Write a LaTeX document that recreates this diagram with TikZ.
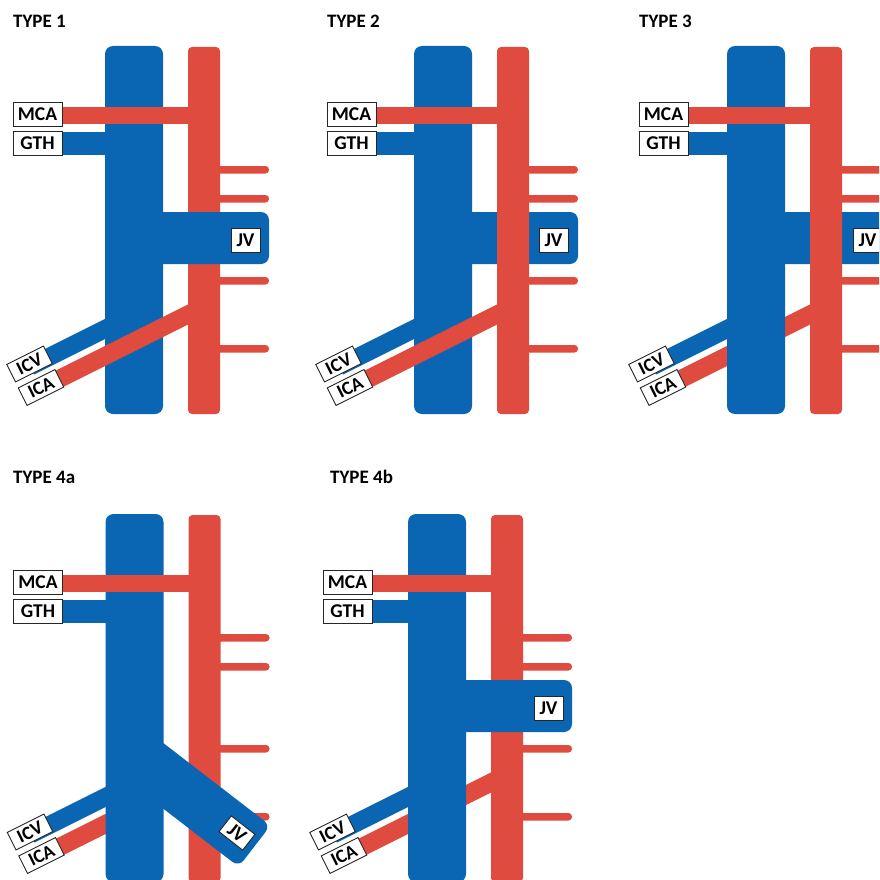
\documentclass[tikz,border=0pt]{standalone}
\usepackage{fontspec}
\setmainfont{Carlito}
\definecolor{veinc}{RGB}{10,102,178}
\definecolor{artc}{RGB}{223,75,62}
\tikzset{
  lbl/.style={draw=black!85, line width=0.9, fill=white, font=\bfseries\fontsize{19.5}{19.5}\selectfont, inner sep=0, minimum width=49, minimum height=24},
  jvlbl/.style={lbl, minimum width=29, minimum height=24},
  dlbl/.style={lbl, font=\bfseries\fontsize{19}{19}\selectfont, minimum width=41, minimum height=19.5, rotate=26.57},
  ttl/.style={font=\bfseries\fontsize{19}{19}\selectfont, anchor=base west, inner sep=0},
  veinband/.style={draw=veinc, line width=18},
  artband/.style={draw=artc, line width=18},
}
\newcommand\VeinBase{%
  \fill[veinc, rounded corners=8] (105,46) rectangle (163,414);
  \fill[veinc] (58,132) rectangle (110,155);
  \path[veinband] (30,366.5) -- (120,321.5);
}
\newcommand\ArtBase{%
  \fill[artc, rounded corners=4] (188,47) rectangle (220,414);
  \fill[artc] (58,107) rectangle (192,124);
  \foreach \yy in {166,195,277,345} \fill[artc, rounded corners=3.5] (214,\yy) rectangle (269,\yy+7.5);
}
\newcommand\IcaLine{\path[artband] (42,387.5) -- (200,308.5);}
\newcommand\JvH{\fill[veinc, rounded corners=8] (150,212) rectangle (269,264);}
\newcommand\StdLabels[2]{%
  \node[lbl] (#2mca) at (37.5+#1,114.5) {MCA};
  \node[lbl] (#2gth) at (37.5+#1,143.5) {GTH};
  \node[dlbl] (#2icv) at (29.5,364) {ICV};
  \node[dlbl] (#2ica) at (41,387.5) {ICA};
}
\begin{document}
\begin{tikzpicture}[x=1pt,y=-1pt]
\clip (0,0) rectangle (879,880);
\fill[white] (0,0) rectangle (879,880);
% titles
\node[ttl] (ta) at (13,28) {TYPE 1};
\node[ttl] (tb) at (327,28) {TYPE 2};
\node[ttl] (tc) at (639,28) {TYPE 3};
\node[ttl] (td) at (13,483) {TYPE 4a};
\node[ttl] (te) at (330,483) {TYPE 4b};
% TYPE 1
\begin{scope}
  \VeinBase
  \ArtBase
  \IcaLine
  \JvH
  \StdLabels{0}{a}
  \node[jvlbl] (ajv) at (245.5,240) {JV};
\end{scope}
% TYPE 2
\begin{scope}[shift={(309,0)}]
  \VeinBase
  \JvH
  \ArtBase
  \IcaLine
  \StdLabels{5}{b}
  \node[jvlbl] (bjv) at (244.5,240) {JV};
\end{scope}
% TYPE 3
\begin{scope}[shift={(622,0)}]
  \IcaLine
  \VeinBase
  \JvH
  \ArtBase
  \StdLabels{4}{c}
  \node[jvlbl] (cjv) at (245.5,240) {JV};
\end{scope}
% TYPE 4a
\begin{scope}[shift={(0.5,468)}]
  \IcaLine
  \VeinBase
  \ArtBase
  \begin{scope}[shift={(163,308)}, rotate=-37.6]
    \fill[veinc, rounded corners=8] (-40,-26) rectangle (115,26);
  \end{scope}
  \StdLabels{0}{d}
  \node[jvlbl, minimum width=30, minimum height=20, rotate=-38] (djv) at (236.5,365) {JV};
\end{scope}
% TYPE 4b
\begin{scope}[shift={(303,468)}]
  \IcaLine
  \VeinBase
  \ArtBase
  \JvH
  \StdLabels{7}{e}
  \node[jvlbl] (ejv) at (245.5,240.5) {JV};
\end{scope}
\end{tikzpicture}
\end{document}
